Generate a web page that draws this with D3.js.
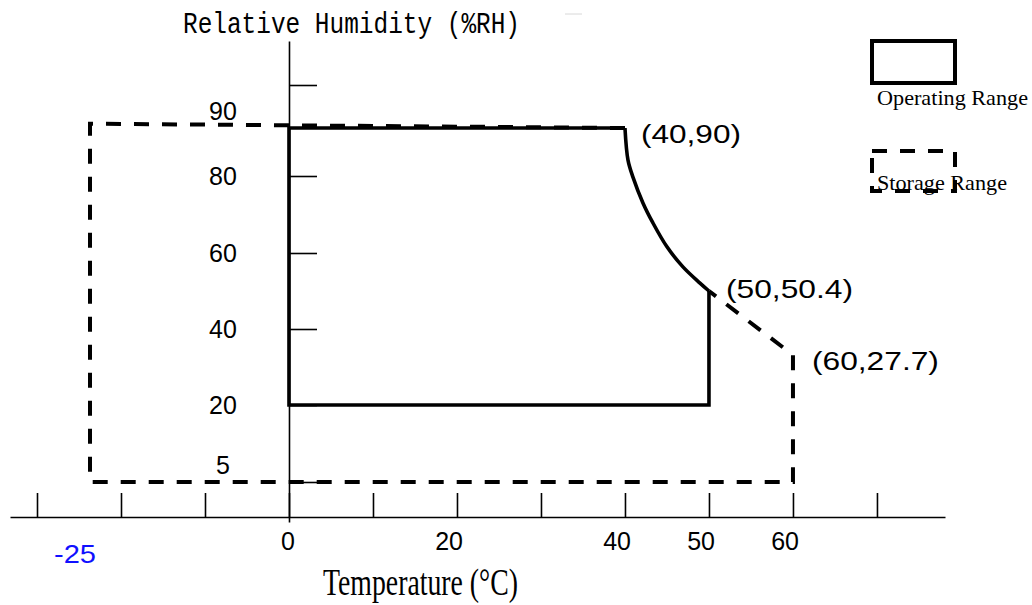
<!DOCTYPE html>
<html>
<head>
<meta charset="utf-8">
<script src="https://cdn.jsdelivr.net/npm/d3@7"></script>
<style>
  html, body { margin: 0; padding: 0; background: #fff; }
  svg { display: block; }
</style>
</head>
<body>
<svg id="chart" width="1032" height="605"></svg>
<script>
// ---- data ----
const tempTicks = [-30, -20, -10, 0, 10, 20, 30, 40, 50, 60, 70];
const tempLabels = [0, 20, 40, 50, 60];
const tempExtraLabel = -25;
const humTicks = [100, 80, 60, 40, 20, 5];
const humLabels = [90, 80, 60, 40, 20, 5];
// operating range (solid): straight part and curved part
const operatingStraight = [[50, 50.4], [50, 20], [0, 20], [0, 90], [40, 90]];
const operatingCurve = [[40, 90], [40.36, 83.3], [40.95, 79.7], [42.14, 73.0], [43.33, 67.8], [45.0, 61.6], [46.9, 56.5], [48.93, 52.4], [50, 50.4]];
// storage range (dashed)
const storagePath = [[40, 90], [-25, 91], [-25, 5], [60, 5], [60, 27.7], [50, 50.4]];
const annotTemp = [40, 50, 60];
const annotHum = [90, 50.4, 27.7];
const annotText = ["(40,90)", "(50,50.4)", "(60,27.7)"];
const legendNames = ["Operating Range", "Storage Range"];

// ---- layout / style ----
const annotOffsets = [[16, 15], [17, 7], [19, 15]];
const annotWidths = [100, 127, 127];
const legendLabelWidths = [151, 130];

const svg = d3.select("#chart");

// schematic (piecewise-linear) scales as drawn in the reference
const x = d3.scaleLinear()
  .domain([-33.2, -30, -25, -20, 78.1])
  .range([10, 37, 90, 121, 945]);
const y = d3.scaleLinear()
  .domain([-1.2, 0, 5, 20, 27.7, 40, 50.4, 60, 80, 90, 100, 110])
  .range([522, 517, 482, 405, 355, 329, 291, 253, 176, 128, 85, 41]);

// x axis
const gx = svg.append("g")
  .attr("transform", `translate(0,${y(0)})`)
  .call(d3.axisBottom(x).tickValues(tempTicks).tickSize(-24).tickSizeOuter(0).tickFormat(""));
gx.selectAll("path, line").attr("stroke", "#000").attr("stroke-width", 1.6);

// y axis
const gy = svg.append("g")
  .attr("transform", `translate(${x(0)},0)`)
  .call(d3.axisRight(y).tickValues(humTicks).tickSize(28).tickSizeOuter(0).tickFormat(""));
gy.selectAll("path, line").attr("stroke", "#000").attr("stroke-width", 1.6);

// x tick labels
svg.append("g").selectAll("text").data(tempLabels).join("text")
  .attr("x", d => x(d) + 6)
  .attr("y", 550)
  .attr("text-anchor", "end")
  .attr("font-family", "Liberation Sans, Arial, sans-serif")
  .attr("font-size", 25)
  .attr("fill", "#000")
  .text(d => d);

svg.append("text")
  .attr("x", x(tempExtraLabel) + 6)
  .attr("y", 563)
  .attr("text-anchor", "end")
  .attr("font-family", "Liberation Sans, Arial, sans-serif")
  .attr("font-size", 25)
  .attr("fill", "#1010ff")
  .attr("textLength", 42)
  .attr("lengthAdjust", "spacingAndGlyphs")
  .text(String(tempExtraLabel));

// y tick labels
const aboveLine = new Set([90, 5]);
svg.append("g").selectAll("text").data(humLabels).join("text")
  .attr("x", 223)
  .attr("y", d => aboveLine.has(d) ? y(d) - 8 : y(d) + 9)
  .attr("text-anchor", "middle")
  .attr("font-family", "Liberation Sans, Arial, sans-serif")
  .attr("font-size", 25)
  .attr("fill", "#000")
  .text(d => d);

// storage range (dashed)
const line = d3.line().x(d => x(d[0])).y(d => y(d[1]));
svg.append("path")
  .attr("d", line(storagePath))
  .attr("fill", "none")
  .attr("stroke", "#000")
  .attr("stroke-width", 4)
  .attr("stroke-dasharray", "15,13");

// operating range (solid)
svg.append("path")
  .attr("d", line(operatingStraight))
  .attr("fill", "none")
  .attr("stroke", "#000")
  .attr("stroke-width", 3.6)
  .attr("stroke-linejoin", "miter");
svg.append("path")
  .attr("d", d3.line().x(d => x(d[0])).y(d => y(d[1])).curve(d3.curveCatmullRom.alpha(0.5))(operatingCurve))
  .attr("fill", "none")
  .attr("stroke", "#000")
  .attr("stroke-width", 3.6);

// point annotations
svg.append("g").selectAll("text").data(annotText).join("text")
  .attr("x", (d, i) => x(annotTemp[i]) + annotOffsets[i][0])
  .attr("y", (d, i) => y(annotHum[i]) + annotOffsets[i][1])
  .attr("font-family", "Liberation Sans, Arial, sans-serif")
  .attr("font-size", 26)
  .attr("fill", "#000")
  .attr("textLength", (d, i) => annotWidths[i])
  .attr("lengthAdjust", "spacingAndGlyphs")
  .text(d => d);

// axis titles
svg.append("text")
  .attr("x", 183).attr("y", 33)
  .attr("font-family", "Liberation Mono, monospace")
  .attr("font-size", 30)
  .attr("fill", "#000")
  .attr("textLength", 337)
  .attr("lengthAdjust", "spacingAndGlyphs")
  .text("Relative Humidity (%RH)");
svg.append("line")
  .attr("x1", 565).attr("x2", 582).attr("y1", 14).attr("y2", 14)
  .attr("stroke", "#d8d8d8").attr("stroke-width", 1);

svg.append("text")
  .attr("x", 323).attr("y", 595)
  .attr("font-family", "Liberation Serif, Times New Roman, serif")
  .attr("font-size", 38)
  .attr("fill", "#000")
  .attr("textLength", 195)
  .attr("lengthAdjust", "spacingAndGlyphs")
  .text("Temperature (°C)");

// legend
const lg = svg.append("g");
lg.append("rect").attr("x", 872).attr("y", 41).attr("width", 83).attr("height", 42)
  .attr("fill", "none").attr("stroke", "#000").attr("stroke-width", 4);
lg.append("rect").attr("x", 872).attr("y", 151).attr("width", 83).attr("height", 40)
  .attr("fill", "none").attr("stroke", "#000").attr("stroke-width", 4)
  .attr("stroke-dasharray", "15,13");
lg.selectAll("text").data(legendNames).join("text")
  .attr("x", 877)
  .attr("y", (d, i) => i === 0 ? 105 : 190)
  .attr("font-family", "Liberation Serif, Times New Roman, serif")
  .attr("font-size", 21)
  .attr("fill", "#000")
  .attr("textLength", (d, i) => legendLabelWidths[i])
  .attr("lengthAdjust", "spacingAndGlyphs")
  .text(d => d);
</script>
</body>
</html>
